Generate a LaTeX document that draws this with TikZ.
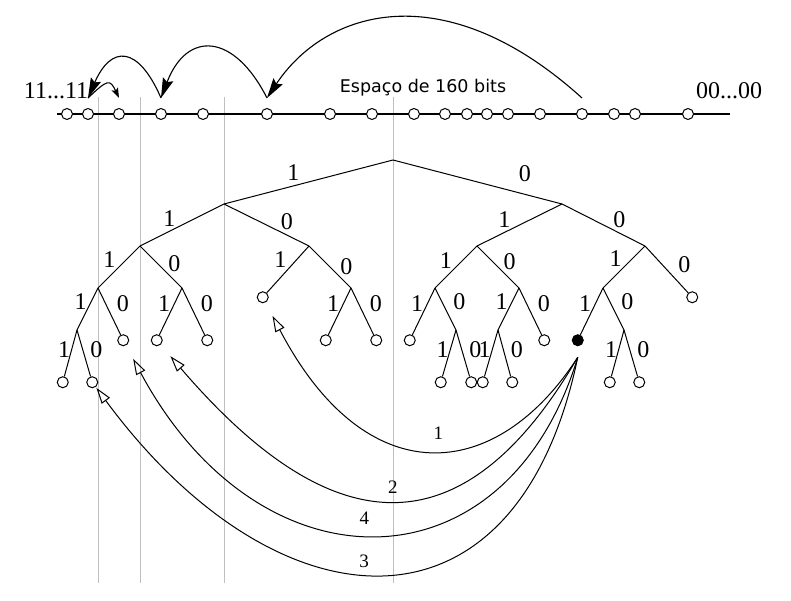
\documentclass[tikz,border=0pt]{standalone}
\usepackage{fontspec}
\setmainfont{Liberation Serif}
\newfontfamily\sansfont{DejaVu Sans}
\usetikzlibrary{positioning,arrows.meta}

\newcommand\bitfont{\fontsize{24}{26}\selectfont}
\newcommand\hopfont{\fontsize{19}{21}\selectfont}
\newcommand\spacefont{\sansfont\fontsize{17.5}{20}\selectfont}

\tikzset{
  fork/.style={coordinate},
  leaf/.style={circle, draw, fill=white, minimum size=11pt, inner sep=0pt},
  hit/.style={leaf, fill=black},
  bit/.style={font=\bitfont, inner sep=1pt},
  hop/.style={font=\hopfont, inner sep=1pt},
  tip1/.style={bit, pos=.33, left=3pt},
  tip0/.style={bit, pos=.33, right=10pt},
  twig1/.style={bit, pos=.43, left=0pt},
  twig0/.style={bit, pos=.43, right=6pt},
  guide/.style={draw=black!25, line width=1pt},
  axis/.style={line width=2.4pt},
  jump/.style={line width=1.1pt, -{Stealth[length=20pt, width=11pt, inset=3pt]}},
  route/.style={line width=1pt, -{Triangle[open, length=16pt, width=10pt]}}
}

\begin{document}
\begin{tikzpicture}[x=1pt, y=-1pt, on grid, line width=1pt]
\useasboundingbox (0,0) rectangle (791,601);

% grey guides
\foreach \x in {98,140,224,393}
  \draw[guide] (\x,97) -- (\x,583);

% the 160 bit space
\coordinate (lo) at (57,114);
\coordinate (hi) at (730,114);
\draw[axis] (lo) -- (hi);
\foreach \x [count=\i] in {67,88,119,161,203,267,330,372,414,445,467,487,508,540,582,614,635,688}
  \node[leaf] (b\i) at (\x,114) {};
\foreach \i in {2,3,4,6,15}
  \coordinate (a\i) at ([yshift=16pt]b\i);

\node[font=\bitfont, inner sep=0pt] (ones) at (56,90.5) {11...11};
\node[font=\bitfont, inner sep=0pt] (zeros) at (729,90.5) {00...00};
\node[font=\spacefont, inner sep=0pt, anchor=base] (space) at (423,93) {Espaço de 160 bits};

\draw[jump] (a15) .. controls +(-137,-124) and +(59,-89) .. (a6);
\draw[jump] (a6) .. controls +(-33,-65) and +(26,-68) .. (a4);
\draw[jump] (a4) .. controls +(-23,-53) and +(23,-53) .. (a2);
\draw[line width=1.1pt, -{Stealth[length=10pt, width=7pt, inset=2pt]}] (a2) .. controls +(20,-19) and +(-9,-19) .. (a3);

% trie
\node[fork] (n) at (393,160) {};
\node[fork] (n1) [below left=44pt and 169pt of n] {};
\node[fork] (n0) [below right=44pt and 169pt of n] {};
\node[fork] (n11) [below left=42pt and 84pt of n1] {};
\node[fork] (n10) [below right=42pt and 85pt of n1] {};
\node[fork] (n01) [below left=42pt and 85pt of n0] {};
\node[fork] (n00) [below right=42pt and 83pt of n0] {};
\node[fork] (n111) [below left=42pt and 42pt of n11] {};
\node[fork] (n110) [below right=42pt and 42pt of n11] {};
\node[leaf] (n101) [below left=47pt and 42pt of n10] {};
\node[fork] (n100) [below right=42pt and 42pt of n10] {};
\node[fork] (n011) [below left=42pt and 42pt of n01] {};
\node[fork] (n010) [below right=42pt and 42pt of n01] {};
\node[fork] (n001) [below left=42pt and 42pt of n00] {};
\node[leaf] (n000) [below right=47pt and 43pt of n00] {};
\node[fork] (n1111) [below left=42pt and 21pt of n111] {};
\node[leaf] (n1110) [below right=48pt and 21pt of n111] {};
\node[leaf] (n1101) [below left=48pt and 21pt of n110] {};
\node[leaf] (n1100) [below right=48pt and 21pt of n110] {};
\node[leaf] (n1001) [below left=48pt and 21pt of n100] {};
\node[leaf] (n1000) [below right=48pt and 21pt of n100] {};
\node[leaf] (n0111) [below left=48pt and 21pt of n011] {};
\node[fork] (n0110) [below right=42pt and 21pt of n011] {};
\node[fork] (n0101) [below left=42pt and 21pt of n010] {};
\node[leaf] (n0100) [below right=48pt and 21pt of n010] {};
\node[hit] (n0011) [below left=48pt and 21pt of n001] {};
\node[fork] (n0010) [below right=42pt and 21pt of n001] {};
\node[leaf] (n11111) [below left=48pt and 10pt of n1111] {};
\node[leaf] (n11110) [below right=48pt and 11pt of n1111] {};
\node[leaf] (n01101) [below left=48pt and 11pt of n0110] {};
\node[leaf] (n01100) [below right=48pt and 11pt of n0110] {};
\node[leaf] (n01011) [below left=48pt and 11pt of n0101] {};
\node[leaf] (n01010) [below right=48pt and 10pt of n0101] {};
\node[leaf] (n00101) [below left=48pt and 10pt of n0010] {};
\node[leaf] (n00100) [below right=48pt and 11pt of n0010] {};

\draw (n) edge node[bit, pos=.59, above=4pt] {1} (n1)
          edge node[bit, pos=.78, above=11pt] {0} (n0);
\draw (n1) edge node[bit, pos=.56, above left] {1} (n11)
           edge node[bit, pos=.65, above right] {0} (n10);
\draw (n0) edge node[bit, pos=.59, above left] {1} (n01)
           edge node[bit, pos=.6, above right] {0} (n00);
\draw (n11) edge node[bit, pos=.55, above left] {1} (n111)
            edge node[bit, pos=.64, above right] {0} (n110);
\draw (n10) edge node[bit, pos=.5, above left] {1} (n101)
            edge node[bit, pos=.71, above right] {0} (n100);
\draw (n01) edge node[bit, pos=.56, above left] {1} (n011)
            edge node[bit, pos=.6, above right] {0} (n010);
\draw (n00) edge node[bit, pos=.52, above left] {1} (n001)
            edge node[bit, pos=.6, above right, xshift=6pt] {0} (n000);
\draw (n111) edge node[tip1] {1} (n1111) edge node[tip0] {0} (n1110);
\draw (n110) edge node[tip1] {1} (n1101) edge node[tip0] {0} (n1100);
\draw (n100) edge node[tip1] {1} (n1001) edge node[tip0] {0} (n1000);
\draw (n011) edge node[tip1] {1} (n0111) edge node[tip0] {0} (n0110);
\draw (n010) edge node[tip1] {1} (n0101) edge node[tip0] {0} (n0100);
\draw (n001) edge node[tip1] {1} (n0011) edge node[tip0] {0} (n0010);
\draw (n1111) edge node[twig1] {1} (n11111) edge node[twig0] {0} (n11110);
\draw (n0110) edge node[twig1] {1} (n01101) edge node[twig0] {0} (n01100);
\draw (n0101) edge node[twig1] {1} (n01011) edge node[twig0] {0} (n01010);
\draw (n0010) edge node[twig1] {1} (n00101) edge node[twig0] {0} (n00100);

% lookups from the filled node
\coordinate[below=17pt of n0011] (src);
\draw[route, shorten >=15pt] (src) .. controls +(-82,127) and +(103,197) .. (n101)
  node[hop, pos=.47, above=8.6pt] {1};
\draw[route, shorten >=15pt] (src) .. controls +(-112,192) and +(179,209) .. (n1101)
  node[hop, pos=.5, above=4.6pt] {2};
\draw[route, shorten >=15pt] (src) .. controls +(-72,237) and +(136,254) .. (n1110)
  node[hop, pos=.52, above=6.6pt] {4};
\draw[route, shorten >=1pt] (src) .. controls +(-62,297) and +(182,247) .. (n11110)
  node[hop, pos=.53, above=4.6pt] {3};
\end{tikzpicture}
\end{document}
